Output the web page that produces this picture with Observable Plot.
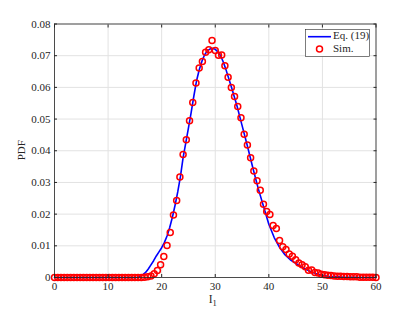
<!DOCTYPE html>
<html>
<head>
<meta charset="utf-8">
<script src="https://cdn.jsdelivr.net/npm/d3@7"></script>
<script src="https://cdn.jsdelivr.net/npm/@observablehq/plot@0.6"></script>
<style>
  html, body { margin: 0; padding: 0; background: white; }
  #chart { width: 415px; height: 312px; }
</style>
</head>
<body>
<div id="chart"></div>
<script>
// Tick values
const xTicks = [0, 10, 20, 30, 40, 50, 60];
const yTicks = [0, 0.01, 0.02, 0.03, 0.04, 0.05, 0.06, 0.07, 0.08];

// Series 1: Eq. (19) (analytical curve)
const eqX = [0, 5, 10, 15, 15.5, 16, 16.5, 17, 17.5, 18, 18.5, 19, 19.5, 20, 20.5, 21, 21.5, 22, 22.5, 23, 23.5, 24, 24.5, 25, 25.5, 26, 26.5, 27, 27.5, 28, 28.5, 29, 29.5, 30, 30.5, 31, 31.5, 32, 33, 34, 35, 36, 37, 38, 39, 40, 41, 42, 43, 44, 45, 46, 47, 48, 49, 50, 51, 52, 53, 54, 55, 56, 57, 58, 59, 60];
const eqY = [0, 0, 0, 0, 0.0001, 0.0004, 0.0009, 0.0016, 0.0027, 0.0040, 0.0053, 0.0068, 0.0081, 0.0094, 0.0110, 0.0131, 0.0158, 0.0190, 0.0228, 0.0270, 0.0318, 0.0378, 0.0425, 0.0472, 0.0520, 0.0572, 0.0620, 0.0655, 0.0682, 0.0702, 0.0715, 0.0721, 0.0723, 0.0720, 0.0712, 0.0700, 0.0680, 0.0656, 0.0602, 0.0545, 0.0480, 0.0415, 0.0347, 0.0282, 0.0225, 0.0168, 0.0126, 0.0095, 0.0072, 0.0056, 0.0045, 0.0034, 0.0025, 0.0017, 0.0011, 0.0007, 0.0004, 0.0003, 0.0002, 0.0001, 0.0001, 0.0001, 0, 0, 0, 0];

// Series 2: Sim. (markers)
const simX = [0, 0.6, 1.2, 1.8, 2.4, 3, 3.6, 4.2, 4.8, 5.4, 6, 6.6, 7.2, 7.8, 8.4, 9, 9.6, 10.2, 10.8, 11.4, 12, 12.6, 13.2, 13.8, 14.4, 15, 15.6, 16.2, 16.8, 17.4, 18, 18.6, 19.2, 19.8, 20.4, 21, 21.6, 22.2, 22.8, 23.4, 24, 24.6, 25.2, 25.8, 26.4, 27, 27.6, 28.2, 28.8, 29.4, 30, 30.6, 31.2, 31.8, 32.4, 33, 33.6, 34.2, 34.8, 35.4, 36, 36.6, 37.2, 37.8, 38.4, 39, 39.6, 40.2, 40.8, 41.4, 42, 42.6, 43.2, 43.8, 44.4, 45, 45.6, 46.2, 46.8, 47.4, 48, 48.6, 49.2, 49.8, 50.4, 51, 51.6, 52.2, 52.8, 53.4, 54, 54.6, 55.2, 55.8, 56.4, 57, 57.6, 58.2, 58.8, 59.4, 60];
const simY = [0, 0, 0, 0, 0, 0, 0, 0, 0, 0, 0, 0, 0, 0, 0, 0, 0, 0, 0, 0, 0, 0, 0, 0, 0, 0, 0, 0, 0.0001, 0.0002, 0.0005, 0.0012, 0.0022, 0.0040, 0.0066, 0.0101, 0.0142, 0.0197, 0.0243, 0.0317, 0.0388, 0.0435, 0.0495, 0.0552, 0.0614, 0.0661, 0.0682, 0.0711, 0.0719, 0.0748, 0.0716, 0.0701, 0.0702, 0.0668, 0.0632, 0.0600, 0.0571, 0.0540, 0.0504, 0.0452, 0.0418, 0.0378, 0.0336, 0.0305, 0.0275, 0.0231, 0.0208, 0.0199, 0.0164, 0.0155, 0.0117, 0.0097, 0.0088, 0.0074, 0.0067, 0.0056, 0.0046, 0.0040, 0.0034, 0.0023, 0.0024, 0.0016, 0.0014, 0.0010, 0.0009, 0.0007, 0.0006, 0.0005, 0.0004, 0.0004, 0.0003, 0.0003, 0.0002, 0.0002, 0.0002, 0.0001, 0.0001, 0.0001, 0.0001, 0.0001, 0.0000];

const seriesNames = ["Eq. (19)", "Sim."];
const xLabelMain = "I";
const xLabelSub = "1";
const yLabel = "PDF";

const eq = eqX.map((x, i) => ({x, y: eqY[i]}));
const sim = simX.map((x, i) => ({x, y: simY[i]}));

const axisColor = "#262626";
const fontFamily = "'Liberation Serif', 'DejaVu Serif', serif";
const yFmt = d => d === 0 ? "0" : d.toFixed(2);

const W = 415, H = 312;
const mL = 54, mR = 39.5, mT = 23.5, mB = 35;

const chart = Plot.plot({
  width: W,
  height: H,
  marginLeft: mL,
  marginRight: mR,
  marginTop: mT,
  marginBottom: mB,
  style: {fontFamily, fontSize: "11px", background: "white", color: axisColor, overflow: "visible"},
  x: {domain: [0, 60]},
  y: {domain: [0, 0.08]},
  marks: [
    Plot.gridX(xTicks, {stroke: "#e2e2e2", strokeOpacity: 1}),
    Plot.gridY(yTicks, {stroke: "#e2e2e2", strokeOpacity: 1}),
    Plot.line(eq, {x: "x", y: "y", stroke: "#0000ff", strokeWidth: 1.6}),
    Plot.dot(sim, {x: "x", y: "y", r: 3, stroke: "#ff0000", strokeWidth: 1.5, fill: "none"}),
    Plot.frame({stroke: axisColor, strokeWidth: 0.8}),
    Plot.axisX(xTicks, {anchor: "bottom", tickSize: -3, tickPadding: 8, label: null, tickFormat: d => String(d), stroke: axisColor, fill: axisColor}),
    Plot.axisX(xTicks, {anchor: "top", tickSize: -3, label: null, tickFormat: () => "", stroke: axisColor}),
    Plot.axisY(yTicks, {anchor: "left", tickSize: -3, tickPadding: 7, label: null, tickFormat: yFmt, stroke: axisColor, fill: axisColor}),
    Plot.axisY(yTicks, {anchor: "right", tickSize: -3, label: null, tickFormat: () => "", stroke: axisColor})
  ]
});

document.getElementById("chart").appendChild(chart);

const svg = d3.select(chart);
const plotCx = mL + (W - mL - mR) / 2;
const plotCy = mT + (H - mT - mB) / 2;

// Y label
svg.append("text")
  .attr("transform", `translate(22,${plotCy}) rotate(-90)`)
  .attr("text-anchor", "middle")
  .attr("dominant-baseline", "middle")
  .attr("fill", axisColor)
  .style("font-family", fontFamily)
  .style("font-size", "11px")
  .text(yLabel);

// X label with subscript
const xl = svg.append("text")
  .attr("x", plotCx - 2)
  .attr("y", 303)
  .attr("text-anchor", "middle")
  .attr("fill", axisColor)
  .style("font-family", fontFamily)
  .style("font-size", "11.5px");
xl.append("tspan").text(xLabelMain);
xl.append("tspan").attr("dy", 3).style("font-size", "8.5px").text(xLabelSub);

// Legend
const lg = svg.append("g").style("font-family", fontFamily).style("font-size", "11px").attr("text-anchor", "start");
lg.append("rect").attr("x", 305.5).attr("y", 29.5).attr("width", 64).attr("height", 27)
  .attr("fill", "white").attr("stroke", axisColor).attr("stroke-width", 0.6);
lg.append("line").attr("x1", 308).attr("x2", 331).attr("y1", 36.7).attr("y2", 36.7)
  .attr("stroke", "#0000ff").attr("stroke-width", 1.6);
lg.append("text").attr("x", 333).attr("y", 36.7).attr("dominant-baseline", "middle")
  .attr("text-anchor", "start").attr("fill", axisColor).text(seriesNames[0]);
lg.append("circle").attr("cx", 319.5).attr("cy", 49).attr("r", 3)
  .attr("fill", "none").attr("stroke", "#ff0000").attr("stroke-width", 1.5);
lg.append("text").attr("x", 333).attr("y", 49).attr("dominant-baseline", "middle")
  .attr("text-anchor", "start").attr("fill", axisColor).text(seriesNames[1]);
</script>
</body>
</html>
